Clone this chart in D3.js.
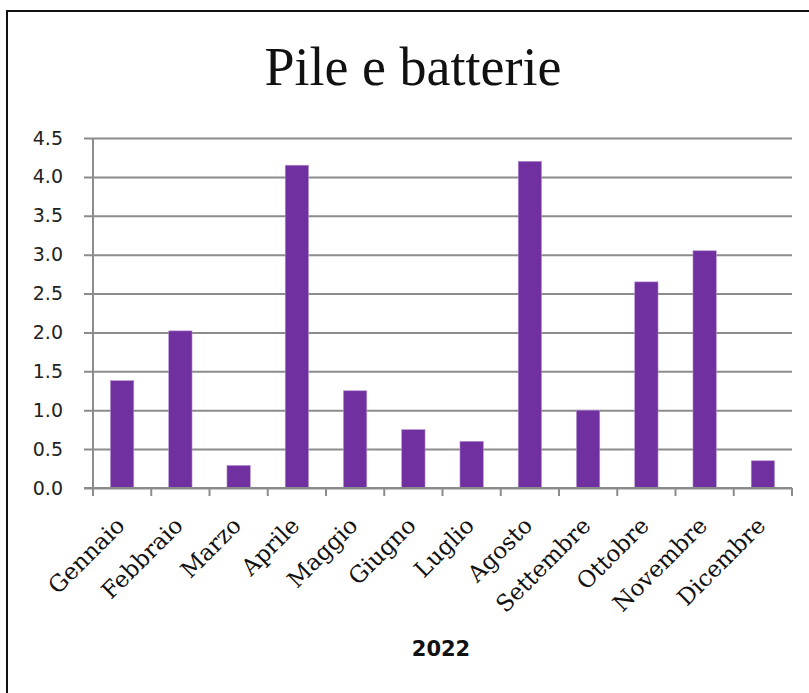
<!DOCTYPE html>
<html>
<head>
<meta charset="utf-8">
<script src="https://cdn.jsdelivr.net/npm/d3@7"></script>
<style>
  body { margin: 0; background: #fff; }
  svg { display: block; }
</style>
</head>
<body>
<svg id="chart" width="809" height="693"></svg>
<script>
const months = ["Gennaio","Febbraio","Marzo","Aprile","Maggio","Giugno","Luglio","Agosto","Settembre","Ottobre","Novembre","Dicembre"];
const values = [1.38, 2.02, 0.29, 4.15, 1.25, 0.75, 0.60, 4.20, 1.00, 2.65, 3.05, 0.35];
const yTicks = [0, 0.5, 1.0, 1.5, 2.0, 2.5, 3.0, 3.5, 4.0, 4.5];
const chartTitle = "Pile e batterie";
const xTitle = "2022";

const svg = d3.select("#chart");
const W = 809, H = 693;
const mLeft = 93, mRight = 792, mTop = 138, mBottom = 488;

svg.append("rect").attr("x", 0).attr("y", 0).attr("width", W).attr("height", H).attr("fill", "#fff");
svg.append("rect").attr("x", 7).attr("y", 11).attr("width", 820).attr("height", 700)
  .attr("fill", "none").attr("stroke", "#111").attr("stroke-width", 2);

const x = d3.scaleBand().domain(months).range([mLeft, mRight]).paddingInner(0.6).paddingOuter(0.3);
const xb = d3.scaleBand().domain(months).range([mLeft, mRight]);
const y = d3.scaleLinear().domain([0, 4.5]).range([mBottom, mTop]);

// gridlines + y axis
const yAxis = d3.axisLeft(y).tickValues(yTicks).tickFormat(d3.format(".1f")).tickSize(-(mRight - mLeft)).tickPadding(0);
const gy = svg.append("g").attr("transform", `translate(${mLeft},0)`).call(yAxis);
gy.select(".domain").remove();
gy.selectAll(".tick line").attr("stroke", "#8c8c8c").attr("stroke-width", 2).attr("x1", -9).attr("x2", mRight - mLeft);
gy.selectAll(".tick text").attr("x", -30).attr("fill", "#222")
  .attr("font-family", "'DejaVu Sans', sans-serif").attr("font-size", 19);

// bars
svg.append("g").selectAll("rect").data(values).join("rect")
  .attr("x", (d, i) => x(months[i]))
  .attr("y", d => y(d))
  .attr("width", x.bandwidth())
  .attr("height", d => y(0) - y(d))
  .attr("fill", "#7030a0")
  .attr("stroke", "#b48fd0").attr("stroke-width", 0.6);

// y axis line
svg.append("line").attr("x1", mLeft).attr("x2", mLeft).attr("y1", mTop).attr("y2", mBottom)
  .attr("stroke", "#8c8c8c").attr("stroke-width", 2);

// x axis
svg.append("line").attr("x1", mLeft - 9).attr("x2", mRight).attr("y1", mBottom).attr("y2", mBottom)
  .attr("stroke", "#8c8c8c").attr("stroke-width", 2);
const edges = months.map(m => xb(m)).concat([mRight]);
svg.append("g").selectAll("line").data(edges).join("line")
  .attr("x1", d => d).attr("x2", d => d).attr("y1", mBottom).attr("y2", mBottom + 8)
  .attr("stroke", "#8c8c8c").attr("stroke-width", 2);

// x labels
svg.append("g").selectAll("text").data(months).join("text")
  .attr("transform", m => `translate(${xb(m) + xb.bandwidth() / 2 + 4},${mBottom + 39}) rotate(-45)`)
  .attr("text-anchor", "end")
  .attr("font-family", "'DejaVu Serif', serif")
  .attr("font-size", 23)
  .attr("fill", "#111")
  .text(d => d);

// title
svg.append("text").attr("x", 413).attr("y", 85).attr("text-anchor", "middle")
  .attr("font-family", "'Liberation Serif', 'DejaVu Serif', serif")
  .attr("font-size", 54).attr("fill", "#111").text(chartTitle);

// x title
svg.append("text").attr("x", 441).attr("y", 656).attr("text-anchor", "middle")
  .attr("font-family", "'DejaVu Sans', sans-serif").attr("font-weight", "bold")
  .attr("font-size", 21).attr("fill", "#111").text(xTitle);
</script>
</body>
</html>
